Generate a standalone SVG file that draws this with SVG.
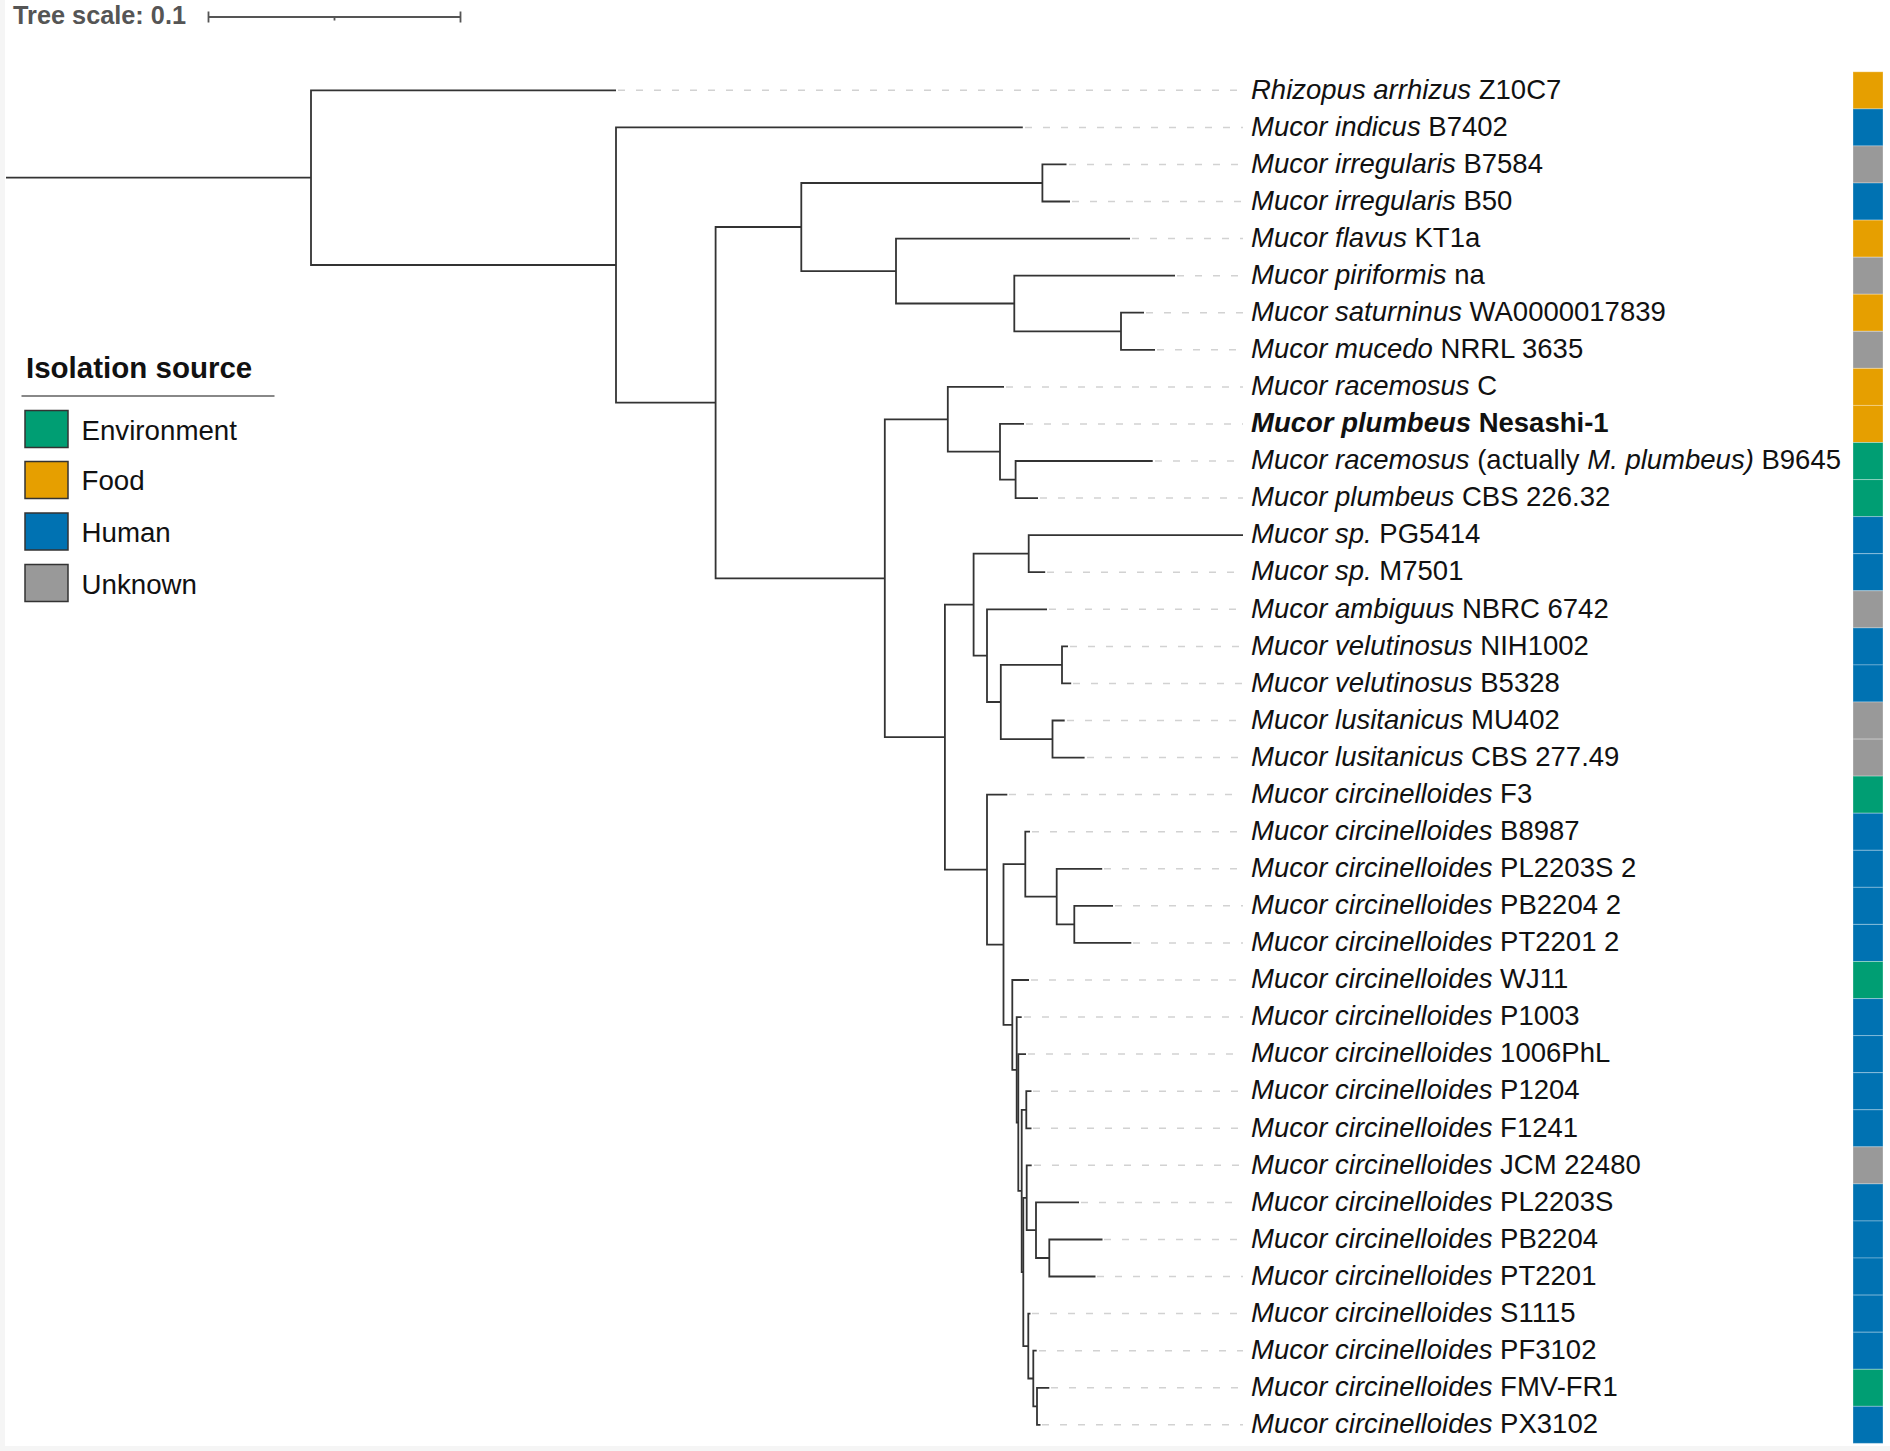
<svg xmlns="http://www.w3.org/2000/svg" width="1890" height="1451" viewBox="0 0 1890 1451">
<style>
text{font-family:"Liberation Sans",Arial,sans-serif;fill:#111}
.lab{font-size:27.5px}
.i{font-style:italic}
.br{fill:none;stroke:#333;stroke-width:1.8}
.dl{fill:none;stroke:#d2d2d2;stroke-width:1.5;stroke-dasharray:7 11}
.env{fill:#009E73}.food{fill:#E69F00}.hum{fill:#0072B2}.unk{fill:#999999}
.cell{stroke:#ffffff;stroke-opacity:0.3;stroke-width:1}
.sw{stroke:#333;stroke-width:1.5}
.leg{font-size:27.7px}
</style>
<rect width="1890" height="1451" fill="#f5f5f5"/>
<rect x="5" y="0" width="1885" height="1446" fill="#ffffff"/>

<g id="scale">
<text x="13" y="24" style="font-size:25.3px;font-weight:bold;fill:#555">Tree scale: 0.1</text>
<path d="M208.5 17 H460.5 M208.5 11.5 V22.5 M460.5 11.5 V22.5 M334.5 17 V20.5" fill="none" stroke="#555" stroke-width="1.8"/>
</g>

<g id="legend">
<text x="26" y="377.5" style="font-size:29.5px;font-weight:bold">Isolation source</text>
<line x1="21.5" y1="396" x2="274.5" y2="396" stroke="#888" stroke-width="2"/>
<rect class="sw env" x="25" y="410.5" width="43" height="37"/>
<text class="leg" x="81.5" y="439.5">Environment</text>
<rect class="sw food" x="25" y="461.5" width="43" height="37"/>
<text class="leg" x="81.5" y="489.5">Food</text>
<rect class="sw hum" x="25" y="513" width="43" height="37"/>
<text class="leg" x="81.5" y="541.5">Human</text>
<rect class="sw unk" x="25" y="564.5" width="43" height="37"/>
<text class="leg" x="81.5" y="594">Unknown</text>
</g>

<g id="connectors">
<g class="dl">
<path d="M618 90.3H1243M1025 127.4H1243M1069 164.4H1243M1072 201.5H1243M1132 238.6H1243M1177 275.7H1243M1146 312.7H1243M1157 349.8H1243M1006 386.9H1243M1026 423.9H1243M1155 461H1243M1040 498.1H1243M1047 572.2H1243M1049 609.3H1243M1070 646.4H1243M1073 683.4H1243M1067 720.5H1243M1087 757.6H1243M1009 794.6H1243M1032 831.7H1243M1104 868.8H1243M1115 905.8H1243M1133 942.9H1243M1031 980H1243M1024 1017.1H1243M1028 1054.1H1243M1033 1091.2H1243M1033 1128.3H1243M1034 1165.3H1243M1081 1202.4H1243M1104 1239.5H1243M1097 1276.5H1243M1032 1313.6H1243M1039 1350.7H1243M1051 1387.8H1243M1042 1424.8H1243"/>
</g>
<g class="br">
<path d="M6 177.7H311"/>
<path d="M616 90.3H311V265H616"/>
<path d="M1022.8 127.4H616V402.6H715.6"/>
<path d="M801.3 227H715.6V578.3H884.8"/>
<path d="M1042.4 183H801.3V271.1H896"/>
<path d="M1066.5 164.4H1042.4V201.5H1070"/>
<path d="M1130 238.6H896V303.5H1014.3"/>
<path d="M1175 275.7H1014.3V331.3H1121"/>
<path d="M1144 312.7H1121V349.8H1155"/>
<path d="M947.8 419.3H884.8V737.2H944.9"/>
<path d="M1004 386.9H947.8V451.7H1000"/>
<path d="M1024 423.9H1000V479.6H1015.6"/>
<path d="M1152.7 461H1015.6V498.1H1038"/>
<path d="M973.6 604.7H944.9V869.6H987"/>
<path d="M1028.7 553.7H973.6V655.7H987"/>
<path d="M1243 535.1H1028.7V572.2H1045.2"/>
<path d="M1047 609.3H987V702H1000.8"/>
<path d="M1062 664.9H1000.8V739.1H1052.5"/>
<path d="M1068 646.4H1062V683.4H1071.2"/>
<path d="M1064.7 720.5H1052.5V757.6H1084.6"/>
<path d="M1007.3 794.6H987V944.6H1003.5"/>
<path d="M1025.3 864.2H1003.5V1024.9H1012.3"/>
<path d="M1030 831.7H1025.3V896.6H1056.7"/>
<path d="M1102.2 868.8H1056.7V924.4H1074.3"/>
<path d="M1113 905.8H1074.3V942.9H1131.3"/>
<path d="M1029 980H1012.3V1069.8H1016.7"/>
<path d="M1021.7 1017.1H1016.7V1122.5H1018.3"/>
<path d="M1026 1054.1H1018.3V1190.9H1021.7"/>
<path d="M1026.3 1109.8H1021.7V1272H1023.3"/>
<path d="M1031.5 1091.2H1026.3V1128.3H1031.5"/>
<path d="M1026.7 1197.8H1023.3V1346.1H1028.3"/>
<path d="M1031.7 1165.3H1026.7V1230.2H1036"/>
<path d="M1079 1202.4H1036V1258H1049.3"/>
<path d="M1102.5 1239.5H1049.3V1276.5H1095.5"/>
<path d="M1030.5 1313.6H1028.3V1378.5H1033.3"/>
<path d="M1036.7 1350.7H1033.3V1406.3H1037"/>
<path d="M1049.3 1387.8H1037V1424.8H1040.5"/>
</g>
</g>

<g id="leaves" class="lab">
<g id="leaf-01"><text x="1251" y="98.5"><tspan class="i">Rhizopus arrhizus</tspan> Z10C7</text><rect class="cell food" x="1853" y="71.8" width="30" height="37.07"/></g>
<g id="leaf-02"><text x="1251" y="135.6"><tspan class="i">Mucor indicus</tspan> B7402</text><rect class="cell hum" x="1853" y="108.9" width="30" height="37.07"/></g>
<g id="leaf-03"><text x="1251" y="172.6"><tspan class="i">Mucor irregularis</tspan> B7584</text><rect class="cell unk" x="1853" y="145.9" width="30" height="37.07"/></g>
<g id="leaf-04"><text x="1251" y="209.7"><tspan class="i">Mucor irregularis</tspan> B50</text><rect class="cell hum" x="1853" y="183" width="30" height="37.07"/></g>
<g id="leaf-05"><text x="1251" y="246.8"><tspan class="i">Mucor flavus</tspan> KT1a</text><rect class="cell food" x="1853" y="220.1" width="30" height="37.07"/></g>
<g id="leaf-06"><text x="1251" y="283.9"><tspan class="i">Mucor piriformis</tspan> na</text><rect class="cell unk" x="1853" y="257.2" width="30" height="37.07"/></g>
<g id="leaf-07"><text x="1251" y="320.9"><tspan class="i">Mucor saturninus</tspan> WA0000017839</text><rect class="cell food" x="1853" y="294.2" width="30" height="37.07"/></g>
<g id="leaf-08"><text x="1251" y="358"><tspan class="i">Mucor mucedo</tspan> NRRL 3635</text><rect class="cell unk" x="1853" y="331.3" width="30" height="37.07"/></g>
<g id="leaf-09"><text x="1251" y="395.1"><tspan class="i">Mucor racemosus</tspan> C</text><rect class="cell food" x="1853" y="368.4" width="30" height="37.07"/></g>
<g id="leaf-10"><text x="1251" y="432.1" font-weight="bold"><tspan class="i">Mucor plumbeus</tspan> Nesashi-1</text><rect class="cell food" x="1853" y="405.4" width="30" height="37.07"/></g>
<g id="leaf-11"><text x="1251" y="469.2"><tspan class="i">Mucor racemosus</tspan> (actually <tspan class="i">M. plumbeus)</tspan> B9645</text><rect class="cell env" x="1853" y="442.5" width="30" height="37.07"/></g>
<g id="leaf-12"><text x="1251" y="506.3"><tspan class="i">Mucor plumbeus</tspan> CBS 226.32</text><rect class="cell env" x="1853" y="479.6" width="30" height="37.07"/></g>
<g id="leaf-13"><text x="1251" y="543.3"><tspan class="i">Mucor sp.</tspan> PG5414</text><rect class="cell hum" x="1853" y="516.6" width="30" height="37.07"/></g>
<g id="leaf-14"><text x="1251" y="580.4"><tspan class="i">Mucor sp.</tspan> M7501</text><rect class="cell hum" x="1853" y="553.7" width="30" height="37.07"/></g>
<g id="leaf-15"><text x="1251" y="617.5"><tspan class="i">Mucor ambiguus</tspan> NBRC 6742</text><rect class="cell unk" x="1853" y="590.8" width="30" height="37.07"/></g>
<g id="leaf-16"><text x="1251" y="654.6"><tspan class="i">Mucor velutinosus</tspan> NIH1002</text><rect class="cell hum" x="1853" y="627.9" width="30" height="37.07"/></g>
<g id="leaf-17"><text x="1251" y="691.6"><tspan class="i">Mucor velutinosus</tspan> B5328</text><rect class="cell hum" x="1853" y="664.9" width="30" height="37.07"/></g>
<g id="leaf-18"><text x="1251" y="728.7"><tspan class="i">Mucor lusitanicus</tspan> MU402</text><rect class="cell unk" x="1853" y="702" width="30" height="37.07"/></g>
<g id="leaf-19"><text x="1251" y="765.8"><tspan class="i">Mucor lusitanicus</tspan> CBS 277.49</text><rect class="cell unk" x="1853" y="739.1" width="30" height="37.07"/></g>
<g id="leaf-20"><text x="1251" y="802.8"><tspan class="i">Mucor circinelloides</tspan> F3</text><rect class="cell env" x="1853" y="776.1" width="30" height="37.07"/></g>
<g id="leaf-21"><text x="1251" y="839.9"><tspan class="i">Mucor circinelloides</tspan> B8987</text><rect class="cell hum" x="1853" y="813.2" width="30" height="37.07"/></g>
<g id="leaf-22"><text x="1251" y="877"><tspan class="i">Mucor circinelloides</tspan> PL2203S 2</text><rect class="cell hum" x="1853" y="850.3" width="30" height="37.07"/></g>
<g id="leaf-23"><text x="1251" y="914"><tspan class="i">Mucor circinelloides</tspan> PB2204 2</text><rect class="cell hum" x="1853" y="887.3" width="30" height="37.07"/></g>
<g id="leaf-24"><text x="1251" y="951.1"><tspan class="i">Mucor circinelloides</tspan> PT2201 2</text><rect class="cell hum" x="1853" y="924.4" width="30" height="37.07"/></g>
<g id="leaf-25"><text x="1251" y="988.2"><tspan class="i">Mucor circinelloides</tspan> WJ11</text><rect class="cell env" x="1853" y="961.5" width="30" height="37.07"/></g>
<g id="leaf-26"><text x="1251" y="1025.3"><tspan class="i">Mucor circinelloides</tspan> P1003</text><rect class="cell hum" x="1853" y="998.6" width="30" height="37.07"/></g>
<g id="leaf-27"><text x="1251" y="1062.3"><tspan class="i">Mucor circinelloides</tspan> 1006PhL</text><rect class="cell hum" x="1853" y="1035.6" width="30" height="37.07"/></g>
<g id="leaf-28"><text x="1251" y="1099.4"><tspan class="i">Mucor circinelloides</tspan> P1204</text><rect class="cell hum" x="1853" y="1072.7" width="30" height="37.07"/></g>
<g id="leaf-29"><text x="1251" y="1136.5"><tspan class="i">Mucor circinelloides</tspan> F1241</text><rect class="cell hum" x="1853" y="1109.8" width="30" height="37.07"/></g>
<g id="leaf-30"><text x="1251" y="1173.5"><tspan class="i">Mucor circinelloides</tspan> JCM 22480</text><rect class="cell unk" x="1853" y="1146.8" width="30" height="37.07"/></g>
<g id="leaf-31"><text x="1251" y="1210.6"><tspan class="i">Mucor circinelloides</tspan> PL2203S</text><rect class="cell hum" x="1853" y="1183.9" width="30" height="37.07"/></g>
<g id="leaf-32"><text x="1251" y="1247.7"><tspan class="i">Mucor circinelloides</tspan> PB2204</text><rect class="cell hum" x="1853" y="1221" width="30" height="37.07"/></g>
<g id="leaf-33"><text x="1251" y="1284.7"><tspan class="i">Mucor circinelloides</tspan> PT2201</text><rect class="cell hum" x="1853" y="1258" width="30" height="37.07"/></g>
<g id="leaf-34"><text x="1251" y="1321.8"><tspan class="i">Mucor circinelloides</tspan> S1115</text><rect class="cell hum" x="1853" y="1295.1" width="30" height="37.07"/></g>
<g id="leaf-35"><text x="1251" y="1358.9"><tspan class="i">Mucor circinelloides</tspan> PF3102</text><rect class="cell hum" x="1853" y="1332.2" width="30" height="37.07"/></g>
<g id="leaf-36"><text x="1251" y="1396"><tspan class="i">Mucor circinelloides</tspan> FMV-FR1</text><rect class="cell env" x="1853" y="1369.3" width="30" height="37.07"/></g>
<g id="leaf-37"><text x="1251" y="1433"><tspan class="i">Mucor circinelloides</tspan> PX3102</text><rect class="cell hum" x="1853" y="1406.3" width="30" height="37.07"/></g>
</g>
</svg>
